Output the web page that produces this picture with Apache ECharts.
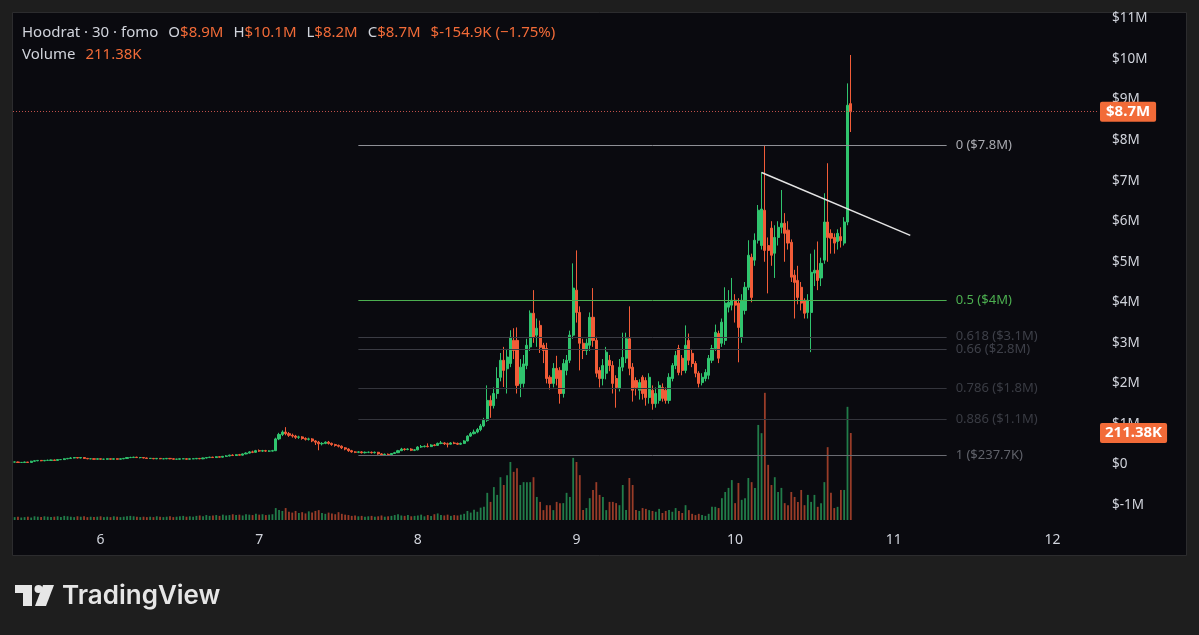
<!DOCTYPE html>
<html><head><meta charset="utf-8">
<script src="https://cdn.jsdelivr.net/npm/echarts@6/dist/echarts.min.js"></script>
<style>html,body{margin:0;padding:0;background:#1e1e1e;}#c{width:1199px;height:635px;}</style>
</head><body><div id="c"></div>
<script>
// ---- axis / tick data ----
const dayTicks = ['6', '7', '8', '9', '10', '11', '12'];
const firstDayIndex = 26;      // slot index of day 6, 00:00
const barsPerDay = 48;         // 30-minute candles
const totalSlots = 328;        // slots visible up to the price scale
const priceMin = -1, priceMax = 11, priceStep = 1;

// ---- candles: [open, close, low, high] in $M ----
const candles = [
[0.06,0.06,0.05,0.07],[0.06,0.05,0.04,0.07],[0.05,0.05,0.04,0.06],[0.05,0.06,0.04,0.07],[0.06,0.05,0.04,0.06],
[0.05,0.08,0.05,0.09],[0.08,0.09,0.07,0.10],[0.09,0.10,0.08,0.11],[0.10,0.09,0.08,0.11],[0.09,0.10,0.08,0.11],
[0.10,0.10,0.09,0.12],[0.10,0.11,0.09,0.12],[0.11,0.10,0.09,0.12],[0.10,0.12,0.10,0.13],[0.12,0.12,0.11,0.13],
[0.12,0.14,0.11,0.15],[0.14,0.15,0.13,0.16],[0.15,0.16,0.14,0.18],[0.16,0.17,0.15,0.18],[0.17,0.16,0.15,0.18],
[0.16,0.17,0.15,0.18],[0.17,0.15,0.14,0.18],[0.15,0.14,0.13,0.16],[0.14,0.14,0.13,0.15],[0.14,0.13,0.12,0.15],
[0.13,0.14,0.12,0.15],[0.14,0.13,0.12,0.14],[0.13,0.13,0.12,0.14],[0.13,0.14,0.12,0.15],[0.14,0.13,0.12,0.14],
[0.13,0.14,0.12,0.15],[0.14,0.13,0.12,0.15],[0.13,0.14,0.12,0.15],[0.14,0.15,0.13,0.16],[0.15,0.17,0.14,0.18],
[0.17,0.17,0.16,0.19],[0.17,0.18,0.16,0.19],[0.18,0.17,0.16,0.19],[0.17,0.17,0.15,0.18],[0.17,0.16,0.15,0.18],
[0.16,0.15,0.14,0.17],[0.15,0.15,0.14,0.16],[0.15,0.14,0.13,0.16],[0.14,0.15,0.13,0.16],[0.15,0.14,0.13,0.15],
[0.14,0.14,0.13,0.15],[0.14,0.15,0.13,0.16],[0.15,0.14,0.13,0.16],[0.14,0.13,0.12,0.15],[0.13,0.13,0.12,0.14],
[0.13,0.14,0.12,0.15],[0.14,0.14,0.13,0.15],[0.14,0.13,0.12,0.15],[0.13,0.14,0.12,0.15],[0.14,0.14,0.13,0.15],
[0.14,0.15,0.13,0.16],[0.15,0.14,0.13,0.16],[0.14,0.16,0.13,0.17],[0.16,0.17,0.15,0.18],[0.17,0.18,0.16,0.19],
[0.18,0.17,0.16,0.19],[0.17,0.19,0.16,0.20],[0.19,0.18,0.17,0.20],[0.18,0.20,0.17,0.21],[0.20,0.21,0.19,0.23],
[0.21,0.23,0.20,0.24],[0.23,0.22,0.21,0.25],[0.22,0.24,0.21,0.25],[0.24,0.23,0.22,0.26],[0.23,0.26,0.22,0.27],
[0.26,0.28,0.25,0.30],[0.28,0.31,0.27,0.33],[0.31,0.30,0.28,0.34],[0.30,0.34,0.29,0.36],[0.34,0.33,0.31,0.37],
[0.33,0.34,0.31,0.36],[0.34,0.33,0.31,0.36],[0.33,0.33,0.31,0.35],[0.33,0.34,0.32,0.36],[0.34,0.63,0.33,0.66],
[0.63,0.74,0.60,0.78],[0.74,0.80,0.70,0.84],[0.80,0.76,0.72,0.92],[0.76,0.72,0.68,0.80],[0.72,0.70,0.66,0.76],
[0.70,0.67,0.63,0.73],[0.67,0.68,0.63,0.71],[0.68,0.64,0.61,0.70],[0.64,0.62,0.59,0.67],[0.62,0.63,0.59,0.66],
[0.63,0.58,0.55,0.65],[0.58,0.55,0.48,0.60],[0.55,0.51,0.35,0.58],[0.51,0.52,0.47,0.55],[0.52,0.55,0.50,0.57],
[0.55,0.52,0.49,0.58],[0.52,0.49,0.46,0.54],[0.49,0.47,0.44,0.51],[0.47,0.45,0.42,0.49],[0.45,0.41,0.38,0.47],
[0.41,0.38,0.35,0.43],[0.38,0.34,0.31,0.40],[0.34,0.31,0.29,0.36],[0.31,0.30,0.28,0.33],[0.30,0.31,0.28,0.33],
[0.31,0.29,0.27,0.33],[0.29,0.30,0.27,0.32],[0.30,0.30,0.28,0.32],[0.30,0.29,0.27,0.32],[0.29,0.30,0.27,0.32],
[0.30,0.26,0.24,0.31],[0.26,0.24,0.22,0.28],[0.24,0.25,0.22,0.27],[0.25,0.24,0.22,0.27],[0.24,0.27,0.23,0.28],
[0.27,0.29,0.26,0.31],[0.29,0.34,0.28,0.36],[0.34,0.38,0.33,0.41],[0.38,0.37,0.34,0.40],[0.37,0.38,0.35,0.40],
[0.38,0.35,0.33,0.40],[0.35,0.36,0.33,0.38],[0.36,0.43,0.35,0.45],[0.43,0.44,0.41,0.48],[0.44,0.45,0.42,0.47],
[0.45,0.44,0.42,0.52],[0.44,0.48,0.43,0.50],[0.48,0.47,0.45,0.50],[0.47,0.52,0.46,0.54],[0.52,0.53,0.50,0.58],
[0.53,0.51,0.48,0.55],[0.51,0.50,0.42,0.54],[0.50,0.53,0.49,0.55],[0.53,0.52,0.50,0.56],[0.52,0.50,0.48,0.54],
[0.50,0.52,0.48,0.54],[0.52,0.58,0.51,0.60],[0.58,0.70,0.57,0.72],[0.70,0.76,0.68,0.80],[0.76,0.80,0.74,0.86],
[0.80,0.86,0.77,0.90],[0.86,0.95,0.82,1.00],[0.95,1.09,0.92,1.15],[1.09,1.58,1.05,1.95],[1.58,1.45,1.15,1.70],
[1.45,1.75,1.38,1.90],[1.75,2.12,1.62,2.40],[2.15,2.57,2.05,2.75],[2.57,2.32,1.91,2.90],[2.36,2.65,1.75,2.85],
[2.49,3.14,2.40,3.31],[3.06,2.81,2.60,3.36],[3.06,1.95,1.75,3.38],[1.99,2.40,1.66,2.60],[2.00,2.48,1.90,2.70],
[2.44,2.94,2.35,3.10],[2.90,3.73,2.80,3.80],[3.73,3.14,3.00,4.30],[3.19,3.36,2.90,3.60],[3.43,2.89,2.75,3.55],
[2.94,2.81,2.50,3.00],[2.86,2.12,2.00,3.00],[2.15,2.00,1.85,2.20],[2.00,2.37,1.90,2.50],[2.37,2.12,1.95,2.68],
[2.32,1.75,1.50,2.40],[1.75,2.49,1.65,2.60],[2.32,2.57,2.20,2.70],[2.57,3.19,2.50,3.30],[3.19,4.35,3.10,4.96],
[4.30,3.75,3.50,5.28],[3.75,2.99,2.32,3.90],[2.99,2.81,2.60,3.10],[2.81,2.99,2.70,3.10],[2.94,3.63,2.80,3.75],
[3.63,3.06,2.90,4.35],[3.06,2.25,2.15,3.15],[2.32,2.12,1.90,2.40],[2.12,2.44,1.95,2.60],[2.25,2.77,2.10,2.90],
[2.57,2.44,2.30,2.70],[2.44,2.00,1.75,2.55],[2.12,1.90,1.40,2.20],[1.88,2.40,1.80,2.60],[2.40,2.64,2.30,3.25],
[2.62,3.10,2.50,3.25],[3.10,2.37,2.20,3.90],[2.40,1.83,1.55,2.50],[2.07,1.90,1.70,2.15],[1.83,2.02,1.60,2.10],
[2.15,1.75,1.60,2.20],[2.07,1.65,1.45,2.15],[1.65,2.15,1.50,2.25],[1.83,1.50,1.35,1.95],[1.50,1.75,1.40,1.90],
[1.58,1.95,1.50,2.05],[1.90,1.63,1.55,2.00],[1.83,1.58,1.50,1.90],[1.58,2.15,1.50,2.25],[2.12,2.44,2.05,2.50],
[2.44,2.69,2.35,2.80],[2.86,2.27,2.20,2.95],[2.62,2.32,2.20,2.70],[2.32,2.94,2.25,3.43],[3.06,2.57,2.45,3.23],
[2.74,2.49,2.40,2.85],[2.49,2.25,2.15,2.55],[2.25,2.00,1.90,2.30],[2.02,2.15,1.95,2.25],[2.12,2.27,2.05,2.35],
[2.20,2.62,2.10,2.70],[2.57,2.86,2.50,2.95],[2.86,3.26,2.80,3.45],[3.23,2.62,2.50,3.30],[2.99,3.51,2.90,3.60],
[3.06,3.98,2.95,4.37],[3.88,4.00,3.75,4.30],[3.93,4.05,3.80,4.60],[4.05,3.93,3.50,4.20],[3.98,3.38,2.52,4.10],
[3.14,4.05,3.00,4.20],[3.80,4.37,3.70,4.50],[4.37,5.16,4.30,5.53],[5.11,4.12,4.00,5.20],[5.04,5.53,4.90,5.70],
[5.53,6.27,5.45,6.40],[5.40,6.30,5.30,7.21],[6.27,5.28,5.00,7.87],[5.40,5.28,4.22,5.60],[5.83,5.16,4.90,6.00],
[5.21,5.60,4.60,5.90],[5.60,5.85,5.40,6.00],[5.85,5.95,5.70,6.77],[5.95,5.70,5.00,6.20],[5.78,5.46,5.30,6.00],
[5.48,4.62,4.50,5.55],[4.67,4.49,3.60,4.80],[4.54,4.12,3.95,4.90],[4.37,3.98,3.80,4.50],[4.05,3.73,3.60,4.10],
[3.75,4.05,3.60,4.20],[3.75,4.74,2.77,5.20],[4.72,4.79,4.40,5.30],[4.79,4.54,4.30,5.50],[4.60,4.96,4.40,5.10],
[5.04,5.98,4.95,6.69],[5.98,5.60,5.00,7.43],[5.70,5.58,5.20,5.80],[5.60,5.46,5.20,5.70],[5.50,5.70,5.30,5.80],
[5.62,5.52,5.35,5.85],[5.46,5.98,5.40,6.10],[5.98,8.86,5.90,9.40],[8.90,8.70,8.20,10.10]
];

// ---- volume per candle, in K ----
const volumes = [
7,8,6,7,8,6,9,8,7,9,8,7,8,9,7,10,9,8,7,9,8,
9,7,8,7,8,9,7,8,7,9,8,7,8,9,10,9,8,7,8,7,
8,7,9,8,7,8,9,7,8,9,10,8,9,8,10,11,9,12,10,11,
12,10,13,11,12,14,12,13,11,14,13,12,15,13,14,12,13,14,
29,24,22,29,
20,18,22,17,19,16,21,18,22,24,17,15,18,16,14,19,15,13,
12,10,11,9,10,8,9,10,8,9,11,8,9,10,12,14,11,10,12,9,
10,11,13,9,12,10,14,16,12,11,13,10,12,11,13,
15,22,18,25,20,30,32,66,44,80,61,104,85,109,141,117,126,85,92,92,
92,104,56,44,24,36,36,24,44,41,41,66,56,151,141,109,24,29,53,73,
92,61,56,24,44,44,41,36,85,24,102,85,24,22,29,27,24,22,20,27,
17,22,24,20,29,22,17,36,24,15,12,15,12,10,15,32,32,29,53,68,
78,97,41,90,49,53,102,92,78,231,211,309,134,85,104,68,78,41,36,68,
56,44,73,36,61,44,61,32,41,92,177,66,29,32,73,73,275,211.38
];

// ---- fibonacci retracement & drawings ----
const fibLabels = ['0 ($7.8M)', '0.5 ($4M)', '0.618 ($3.1M)', '0.66 ($2.8M)', '0.786 ($1.8M)', '0.886 ($1.1M)', '1 ($237.7K)'];
const fibPrices = [7.87, 4.05, 3.15, 2.83, 1.87, 1.11, 0.2377];
const fibColors = ['#8f9096', '#4caf50', '#3b3c44', '#3b3c44', '#34353c', '#34353c', '#6a6b72'];
const fibTextColors = ['#a9aab0', '#4caf50', '#3e4049', '#3e4049', '#3a3c44', '#3a3c44', '#60626a'];
const fibStart = 104, fibEnd = 282;
const trendLine = [[226, 7.2], [271, 5.65]];
const lastClose = 8.7, lastVolume = 211.38;
const priceLabel = '$8.7M', volumeLabel = '211.38K';

// ---- colours ----
const UP = '#30c46e', DOWN = '#f25c38';
const VUP = 'rgba(48,196,110,0.62)', VDOWN = 'rgba(242,92,56,0.62)';
const ORANGE = '#f26b38';
const FONT = 'Noto Sans';

// ---- build categories (30 min slots) ----
const categories = [];
for (let i = 0; i < totalSlots; i++) {
  const m = (i - firstDayIndex) * 30;
  const day = 6 + Math.floor(m / 1440);
  const mod = ((m % 1440) + 1440) % 1440;
  const hh = String(Math.floor(mod / 60)).padStart(2, '0');
  const mm = String(mod % 60).padStart(2, '0');
  categories.push(day + ' ' + hh + ':' + mm);
}

const fibMark = fibPrices.map((p, k) => [
  { coord: [fibStart, p], lineStyle: { color: fibColors[k], width: 1, type: 'solid' },
    label: { show: true, position: 'end', formatter: fibLabels[k], color: fibTextColors[k], fontSize: 13, fontFamily: FONT, distance: 9 } },
  { coord: [fibEnd, p] }
]);

const richStyle = {
  w: { color: '#d1d4dc', fontSize: 15, fontFamily: FONT, fontWeight: 'normal' },
  o: { color: ORANGE, fontSize: 15, fontFamily: FONT, fontWeight: 'normal' }
};

const chart = echarts.init(document.getElementById('c'), null, { renderer: 'canvas' });
chart.setOption({
  backgroundColor: '#1e1e1e',
  animation: false,
  title: [
    { left: 22, top: 24, padding: 0,
      text: '{w|Hoodrat · 30 · fomo}  {w|O}{o|$8.9M}  {w|H}{o|$10.1M}  {w|L}{o|$8.2M}  {w|C}{o|$8.7M}  {o|$-154.9K (−1.75%)}',
      textStyle: { fontWeight: 'normal', rich: richStyle } },
    { left: 22, top: 46, padding: 0,
      text: '{w|Volume}  {o|211.38K}',
      textStyle: { fontWeight: 'normal', rich: richStyle } }
  ],
  graphic: [
    { type: 'rect', z: -100, shape: { x: 12.5, y: 12.5, width: 1174, height: 543 }, style: { fill: '#0a0a0f', stroke: '#2c2c2e', lineWidth: 1 } },
    { type: 'rect', z: 100, shape: { x: 15, y: 585, width: 17, height: 8 }, style: { fill: '#e6e6e6' } },
    { type: 'rect', z: 100, shape: { x: 23, y: 585, width: 9, height: 21 }, style: { fill: '#e6e6e6' } },
    { type: 'circle', z: 100, shape: { cx: 38.5, cy: 589, r: 4 }, style: { fill: '#e6e6e6' } },
    { type: 'polygon', z: 100, shape: { points: [[43, 585], [54, 585], [46, 606], [35, 606]] }, style: { fill: '#e6e6e6' } },
    { type: 'text', z: 100, x: 62, y: 596, style: { text: 'TradingView', fill: '#e6e6e6', font: '600 26px Inter', textVerticalAlign: 'middle' } }
  ],
  grid: [
    { left: 13, width: 1084, top: 18.5, height: 486.5 },
    { left: 13, width: 1084, top: 300, height: 220 }
  ],
  xAxis: [
    { type: 'category', gridIndex: 0, data: categories, show: false, boundaryGap: true },
    { type: 'category', gridIndex: 1, data: categories, boundaryGap: true,
      axisLine: { show: false }, axisTick: { show: false }, splitLine: { show: false },
      axisLabel: { interval: (idx, val) => val.endsWith(' 00:00'), formatter: val => val.split(' ')[0],
        color: '#d1d4dc', fontSize: 14, fontFamily: FONT, margin: 13 } }
  ],
  yAxis: [
    { type: 'value', gridIndex: 0, position: 'right', min: priceMin, max: priceMax, interval: priceStep,
      axisLine: { show: false }, axisTick: { show: false }, splitLine: { show: false },
      axisLabel: { color: '#d1d4dc', fontSize: 13.5, fontFamily: FONT, margin: 15,
        formatter: v => v === 0 ? '$0' : '$' + v + 'M' } },
    { type: 'value', gridIndex: 1, min: 0, max: 534.6, show: false, splitLine: { show: false } }
  ],
  series: [
    { type: 'bar', xAxisIndex: 1, yAxisIndex: 1, barWidth: 1.8,
      data: volumes.map((v, i) => ({ value: v, itemStyle: { color: candles[i][1] >= candles[i][0] ? VUP : VDOWN } })),
      markLine: { silent: true, symbol: ['none', 'none'],
        data: [{ yAxis: lastVolume, lineStyle: { color: 'rgba(0,0,0,0)', width: 0 },
          label: { show: true, position: 'end', formatter: volumeLabel, color: '#ffffff', backgroundColor: ORANGE,
            fontSize: 15, fontFamily: FONT, fontWeight: 'bold', padding: [3, 5, 2, 5], borderRadius: 2, distance: 3 } }] } },
    { type: 'candlestick', xAxisIndex: 0, yAxisIndex: 0, barWidth: 2.6, z: 3,
      data: candles,
      itemStyle: { color: UP, color0: DOWN, borderColor: UP, borderColor0: DOWN, borderWidth: 1 },
      markLine: { silent: true, symbol: ['none', 'none'], animation: false,
        data: [
          ...fibMark,
          [{ coord: trendLine[0], lineStyle: { color: '#e4e4e4', width: 1.5, type: 'solid' }, label: { show: false } }, { coord: trendLine[1] }],
          { yAxis: lastClose, lineStyle: { color: '#c0504a', width: 1, type: [1, 2] },
            label: { show: true, position: 'end', formatter: priceLabel, color: '#ffffff', backgroundColor: ORANGE,
              fontSize: 15, fontFamily: FONT, fontWeight: 'bold', padding: [3, 6, 2, 6], borderRadius: 2, distance: 3 } }
        ] } }
  ]
});
</script></body></html>
